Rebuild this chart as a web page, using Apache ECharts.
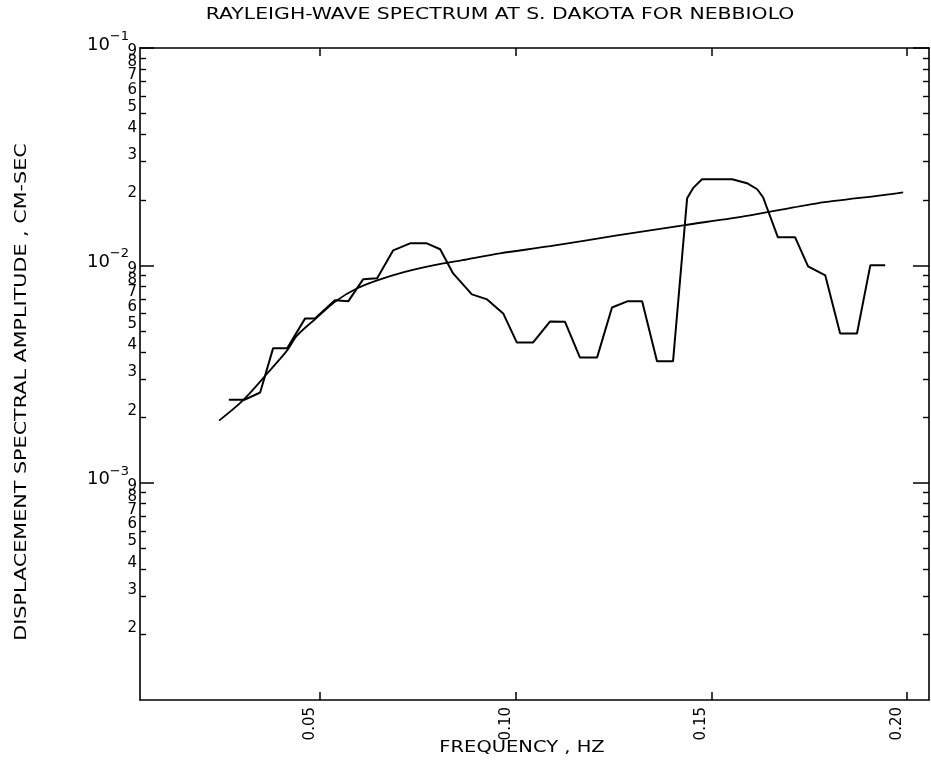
<!DOCTYPE html>
<html>
<head>
<meta charset="utf-8">
<script src="https://cdn.jsdelivr.net/npm/echarts@6/dist/echarts.min.js"></script>
<style>
  html, body { margin: 0; padding: 0; background: #fff; }
  #chart { width: 931px; height: 764px; }
</style>
</head>
<body>
<div id="chart"></div>
<script>
// Observed Rayleigh-wave displacement spectrum (Hz, cm-sec)
const freqObs = [0.0267, 0.0308, 0.0347, 0.0380, 0.0416, 0.0462, 0.0487, 0.0538, 0.0572, 0.0610,
                 0.0646, 0.0687, 0.0730, 0.0773, 0.0807, 0.0840, 0.0888, 0.0927, 0.0968, 0.1003,
                 0.1044, 0.1088, 0.1126, 0.1164, 0.1208, 0.1246, 0.1285, 0.1323, 0.1361, 0.1402,
                 0.1438, 0.1453, 0.1476, 0.1553, 0.1591, 0.1617, 0.1632, 0.1670, 0.1714, 0.1747,
                 0.1791, 0.1829, 0.1872, 0.1906, 0.1944];
const ampObs = [0.00241, 0.00241, 0.00260, 0.00415, 0.00415, 0.00570, 0.00570, 0.00690, 0.00683, 0.00862,
                0.00871, 0.01172, 0.01262, 0.01262, 0.01186, 0.00918, 0.00735, 0.00697, 0.00601, 0.00441,
                0.00441, 0.00552, 0.00550, 0.00377, 0.00377, 0.00640, 0.00683, 0.00683, 0.00362, 0.00362,
                0.02038, 0.02265, 0.02490, 0.02490, 0.02387, 0.02239, 0.02057, 0.01346, 0.01346, 0.00989,
                0.00899, 0.00486, 0.00486, 0.0100, 0.0100];

// Smooth model spectrum
const freqModel = [0.0242, 0.0303, 0.0365, 0.0416, 0.0441, 0.0492, 0.0543, 0.0595, 0.0646, 0.0712,
                   0.0789, 0.0876, 0.0960, 0.1088, 0.1259, 0.1428, 0.1599, 0.1770, 0.1939, 0.1990];
const ampModel = [0.00193, 0.00239, 0.00318, 0.00406, 0.00475, 0.00575, 0.00690, 0.00784, 0.00853, 0.00929,
                  0.01000, 0.01066, 0.01136, 0.01225, 0.01374, 0.01528, 0.01699, 0.01930, 0.02105, 0.02168];

// Axis ticks
const xTicks = [0.05, 0.10, 0.15, 0.20];
const decadeTicks = [0.001, 0.01, 0.1];
const mantissas = [2, 3, 4, 5, 6, 7, 8, 9];
const decadeBases = [0.0001, 0.001, 0.01];

const minorTicks = [];
decadeBases.forEach(b => mantissas.forEach(m => minorTicks.push(+(m * b).toPrecision(3))));
// Labels for even and odd mantissas go on two axes so that crowded neighbours are never dropped
const evenLabels = [];
const oddLabels = [];
decadeBases.forEach(b => mantissas.forEach(m => (m % 2 ? oddLabels : evenLabels).push(+(m * b).toPrecision(3))));

const FONT = '"DejaVu Sans", "Liberation Sans", sans-serif';
const BLACK = '#000';
const axisLine = { show: true, lineStyle: { color: BLACK, width: 1.6 } };

function mantissaLabel(v) {
  const e = Math.floor(Math.log10(v) + 1e-9);
  return String(Math.round(v / Math.pow(10, e)));
}
function decadeLabel(v) {
  const e = Math.round(Math.log10(v));
  return '{b|10}{s|\u2212' + Math.abs(e) + '}';
}

function logAxis(extra) {
  return Object.assign({
    type: 'log', logBase: 10, min: 0.0001, max: 0.1,
    splitLine: { show: false }, minorTick: { show: false }, minorSplitLine: { show: false }
  }, extra);
}
const minorLabelStyle = {
  margin: 3, formatter: mantissaLabel, showMinLabel: true, showMaxLabel: true,
  color: BLACK, fontFamily: FONT, fontSize: 15, verticalAlign: 'bottom', lineHeight: 13
};

const chart = echarts.init(document.getElementById('chart'), null, { renderer: 'canvas' });

chart.setOption({
  animation: false,
  backgroundColor: '#fff',
  grid: { left: 140, right: 2, top: 48, bottom: 64, containLabel: false },
  xAxis: [
    {
      type: 'value', min: 0.004, max: 0.2056, position: 'bottom',
      axisLine: axisLine,
      splitLine: { show: false },
      axisTick: { show: true, inside: true, length: 8, customValues: xTicks, lineStyle: { color: BLACK, width: 1.5 } },
      axisLabel: {
        customValues: xTicks, rotate: 90, margin: 7,
        showMinLabel: true, showMaxLabel: true,
        formatter: v => v.toFixed(2),
        color: BLACK, fontFamily: FONT, fontSize: 15,
        verticalAlign: 'bottom', lineHeight: 20
      }
    },
    {
      type: 'value', min: 0.004, max: 0.2056, position: 'top',
      axisLine: axisLine,
      splitLine: { show: false },
      axisTick: { show: true, inside: true, length: 8, customValues: xTicks, lineStyle: { color: BLACK, width: 1.5 } },
      axisLabel: { show: false }
    }
  ],
  yAxis: [
    logAxis({
      position: 'left',
      axisLine: axisLine,
      axisTick: { show: true, inside: true, length: 6, customValues: minorTicks, lineStyle: { color: BLACK, width: 1.4 } },
      axisLabel: Object.assign({ customValues: evenLabels }, minorLabelStyle)
    }),
    logAxis({
      position: 'left',
      axisLine: { show: false },
      axisTick: { show: false },
      axisLabel: Object.assign({ customValues: oddLabels }, minorLabelStyle)
    }),
    logAxis({
      position: 'left',
      axisLine: { show: false },
      axisTick: { show: true, inside: true, length: 14, customValues: decadeTicks, lineStyle: { color: BLACK, width: 1.5 } },
      axisLabel: {
        customValues: decadeTicks, formatter: decadeLabel, margin: 11,
        showMinLabel: true, showMaxLabel: true,
        color: BLACK, fontFamily: FONT,
        rich: {
          b: { fontSize: 18, fontFamily: FONT, color: BLACK, verticalAlign: 'bottom', lineHeight: 24 },
          s: { fontSize: 13, fontFamily: FONT, color: BLACK, verticalAlign: 'top', lineHeight: 24 }
        },
        verticalAlign: 'middle', padding: [0, 0, 12, 0]
      }
    }),
    logAxis({
      position: 'right',
      axisLine: axisLine,
      axisTick: { show: true, inside: true, length: 6, customValues: minorTicks, lineStyle: { color: BLACK, width: 1.4 } },
      axisLabel: { show: false }
    }),
    logAxis({
      position: 'right',
      axisLine: { show: false },
      axisTick: { show: true, inside: true, length: 16, customValues: decadeTicks, lineStyle: { color: BLACK, width: 1.5 } },
      axisLabel: { show: false }
    })
  ],
  graphic: [
    {
      type: 'text', x: 500, y: 15, scaleX: 1.36,
      style: { text: 'RAYLEIGH-WAVE SPECTRUM AT S. DAKOTA FOR NEBBIOLO', font: '15px "DejaVu Sans"', fill: BLACK, align: 'center', verticalAlign: 'middle' }
    },
    {
      type: 'text', x: 522, y: 748, scaleX: 1.3,
      style: { text: 'FREQUENCY , HZ', font: '15px "DejaVu Sans"', fill: BLACK, align: 'center', verticalAlign: 'middle' }
    },
    {
      type: 'text', x: 22, y: 392, rotation: Math.PI / 2, scaleX: 1.38,
      style: { text: 'DISPLACEMENT SPECTRAL AMPLITUDE , CM-SEC', font: '15px "DejaVu Sans"', fill: BLACK, align: 'center', verticalAlign: 'middle' }
    }
  ],
  series: [
    {
      name: 'observed', type: 'line', xAxisIndex: 0, yAxisIndex: 0,
      data: freqObs.map((f, i) => [f, ampObs[i]]),
      showSymbol: false, symbol: 'none',
      lineStyle: { color: BLACK, width: 2 }
    },
    {
      name: 'model', type: 'line', xAxisIndex: 0, yAxisIndex: 0,
      data: freqModel.map((f, i) => [f, ampModel[i]]),
      showSymbol: false, symbol: 'none', smooth: 0.3,
      lineStyle: { color: BLACK, width: 1.8 }
    }
  ]
});
</script>
</body>
</html>
